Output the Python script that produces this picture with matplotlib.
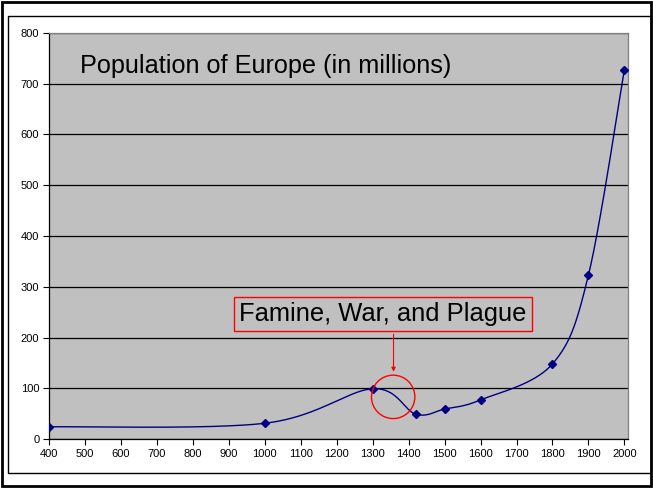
import numpy as np
import matplotlib
matplotlib.use("Agg")
import matplotlib.pyplot as plt
from matplotlib.patches import Rectangle, Ellipse

years = [400, 1000, 1300, 1420, 1500, 1600, 1800, 1900, 2000]
population = [24, 31, 99, 49, 59, 77, 148, 323, 728]
x_ticks = list(range(400, 2001, 100))
y_ticks = list(range(0, 801, 100))
title = "Population of Europe (in millions)"
note = "Famine, War, and Plague"

W, H = 653, 488
fig = plt.figure(figsize=(W / 100, H / 100), dpi=100)
plt.rcParams['font.family'] = ['Liberation Sans', 'DejaVu Sans']

XMAX = 2010
L, R, T, B = 49, 628, 33, 439
ax = fig.add_axes([L / W, 1 - B / H, (R - L) / W, (B - T) / H])
ax.set_facecolor('#C0C0C0')
ax.set_xlim(400, XMAX)
ax.set_ylim(0, 800)

# Excel-like smoothed line (cubic Bezier, Catmull-Rom style), computed in axes-pixel space
span = XMAX - 400
px = (np.array(years) - 400) / span * (R - L)
py = np.array(population) / 800 * (B - T)
pts = np.column_stack([px, py])
n = len(pts)
curve = []
for i in range(n - 1):
    p0 = pts[i - 1] if i > 0 else pts[i]
    p1 = pts[i]
    p2 = pts[i + 1]
    p3 = pts[i + 2] if i + 2 < n else pts[i + 1]
    c1 = p1 + (p2 - p0) / 6
    c2 = p2 - (p3 - p1) / 6
    t = np.linspace(0, 1, 60)[:, None]
    seg = (1 - t) ** 3 * p1 + 3 * (1 - t) ** 2 * t * c1 + 3 * (1 - t) * t ** 2 * c2 + t ** 3 * p2
    curve.append(seg)
curve = np.vstack(curve)
cx = curve[:, 0] / (R - L) * span + 400
cy = curve[:, 1] / (B - T) * 800
ax.plot(cx, cy, color='#000080', lw=1.0, zorder=3)
ax.plot(years, population, linestyle='none', marker='D', ms=3.6, color='#000080', zorder=4)

ax.set_xticks(x_ticks)
ax.set_yticks(y_ticks)
ax.tick_params(axis='both', labelsize=8, length=4, width=0.8, color='black', direction='out', pad=3)
ax.yaxis.grid(True, color='black', lw=0.9)
ax.set_axisbelow(True)
for s in ['top', 'right']:
    ax.spines[s].set_color('#808080')
    ax.spines[s].set_linewidth(0.9)
for s in ['left', 'bottom']:
    ax.spines[s].set_color('black')
    ax.spines[s].set_linewidth(0.9)

fig.text(80 / W, 1 - 66 / H, title, fontsize=18.2, va='center', ha='left')

# annotation box
fig.text(383 / W, 1 - 314 / H, note, fontsize=18.4, va='center', ha='center',
         bbox=dict(boxstyle='square,pad=0.2', fc='none', ec='#FF0000', lw=1))
ax.annotate('', xy=(1358, 127), xytext=(1358, 212),
            arrowprops=dict(arrowstyle='-|>', color='#FF0000', lw=0.8, mutation_scale=6))
ax.add_patch(Ellipse((1357, 83), width=43.4 / (R - L) * span, height=43.4 / (B - T) * 800,
                     fill=False, ec='#FF0000', lw=1, zorder=5))

fig.add_artist(Rectangle((2 / W, 1 - 486 / H), 649 / W, 484 / H, transform=fig.transFigure,
                         fill=False, ec='black', lw=2))
fig.add_artist(Rectangle((8 / W, 1 - 473 / H), 643 / W, 457 / H, transform=fig.transFigure,
                         fill=False, ec='black', lw=1))

fig.savefig('out.png', dpi=100)
